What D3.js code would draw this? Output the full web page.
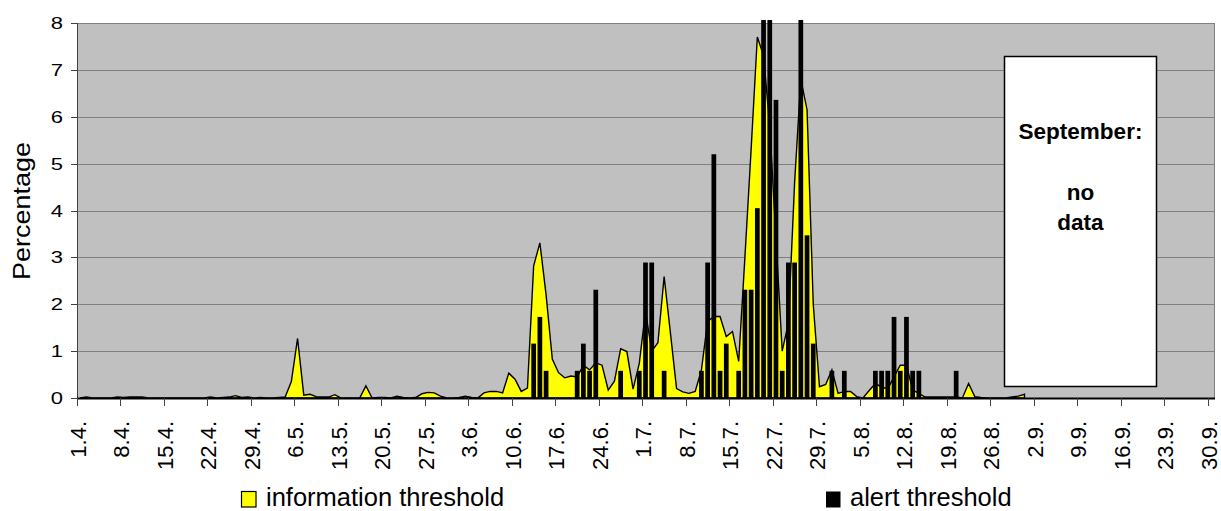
<!DOCTYPE html>
<html>
<head>
<meta charset="utf-8">
<script src="https://cdn.jsdelivr.net/npm/d3@7"></script>
<style>
  html, body { margin: 0; padding: 0; background: #fff; }
  svg { display: block; }
  text { font-family: "Liberation Sans", Arial, sans-serif; fill: #000; }
</style>
</head>
<body>
<svg id="chart" width="1221" height="511"></svg>
<script>
// ---- data ----
// daily categories 1.4. ... 30.9.
const categories = d3.timeDay.range(new Date(2000, 3, 1), new Date(2000, 9, 1)).map(d3.timeFormat("%-d.%-m."));

// information threshold (%), 1.4. - 31.8. (September: no data)
const infoApril = [0,0.02,0,0,0,0,0.02,0.01,0.02,0.02, 0.02,0,0,0,0,0,0,0,0,0, 0,0.02,0,0.01,0.02,0.05,0.01,0.02,0,0.01];
const infoMay = [0,0,0.01,0.02,0.35,1.27,0.06,0.08,0.03,0.02, 0.02,0.07,0,0,0,0,0.26,0,0.01,0.01, 0,0.04,0.01,0,0.01,0.09,0.12,0.11,0.04,0, 0];
const infoJune = [0.01,0.04,0.01,0,0.11,0.14,0.14,0.11,0.53,0.4, 0.14,0.21,2.82,3.31,2.2,0.83,0.54,0.43,0.47,0.45, 0.7,0.6,0.75,0.7,0.17,0.36,1.05,0.99,0.19,0.74];
const infoJuly = [1.85,1.0,1.18,2.59,1.4,0.2,0.13,0.1,0.14,0.6, 1.63,1.74,1.74,1.31,1.42,0.78,3.0,5.3,7.7,7.3, 5.8,3.4,1.0,1.6,4.6,6.8,6.15,2.0,0.24,0.29, 0.6];
const infoAugust = [0.1,0.14,0.14,0.03,0,0.16,0.31,0.23,0.2,0.45, 0.7,0.7,0.17,0.1,0.02,0.02,0.02,0.02,0.02,0.02, 0,0.31,0.03,0.01,0,0,0,0,0.02,0.04, 0.08];

// alert threshold (%), only days with a value
const alertDays = ["13.6.","14.6.","15.6.","20.6.","21.6.","22.6.","23.6.","27.6.","30.6.",
  "1.7.","2.7.","4.7.","10.7.","11.7.","12.7.","13.7.","14.7.","16.7.","17.7.","18.7.","19.7.",
  "20.7.","21.7.","22.7.","23.7.","24.7.","25.7.","26.7.","27.7.","28.7.","31.7.",
  "2.8.","7.8.","8.8.","9.8.","10.8.","11.8.","12.8.","13.8.","14.8.","20.8."];
const alertValues = [1.16,1.73,0.58,0.58,1.16,0.58,2.31,0.58,0.58,
  2.89,2.89,0.58,0.58,2.89,5.2,0.58,1.16,0.58,2.31,2.31,4.05,
  9.25,10.4,6.36,0.58,2.89,2.89,8.67,3.47,1.16,0.58,
  0.58,0.58,0.58,0.58,1.73,0.58,1.73,0.58,0.58,0.58];

const tickLabels = ["1.4.","8.4.","15.4.","22.4.","29.4.","6.5.","13.5.","20.5.","27.5.","3.6.","10.6.","17.6.","24.6.",
  "1.7.","8.7.","15.7.","22.7.","29.7.","5.8.","12.8.","19.8.","26.8.","2.9.","9.9.","16.9.","23.9.","30.9."];
const yTicks = [0,1,2,3,4,5,6,7,8];
const legendLabels = ["information threshold", "alert threshold"];
const noteLines = ["September:", "no", "data"];

// ---- layout ----
const svg = d3.select("#chart");
const L = 77, R = 1214, T = 23, B = 398;

const x = d3.scaleBand().domain(categories).range([L, R]).paddingInner(0).paddingOuter(0);
const bw = x.bandwidth();
const y = d3.scaleLinear().domain([0, 8]).range([B, T]);

const infoValues = [].concat(infoApril, infoMay, infoJune, infoJuly, infoAugust);
const infoData = infoValues.map((v, i) => ({cat: categories[i], v}));
const alertData = alertDays.map((c, i) => ({cat: c, v: alertValues[i]}));

// plot background
svg.append("rect").attr("x", L).attr("y", T).attr("width", R - L).attr("height", B - T)
  .attr("fill", "#C0C0C0");

// gridlines
svg.append("g").selectAll("line").data(yTicks.filter(t => t > 0)).join("line")
  .attr("x1", L).attr("x2", R)
  .attr("y1", d => Math.round(y(d)) + 0.5).attr("y2", d => Math.round(y(d)) + 0.5)
  .attr("stroke", "#808080").attr("stroke-width", 1);

// right border
svg.append("line").attr("x1", R + 0.5).attr("x2", R + 0.5).attr("y1", T).attr("y2", B)
  .attr("stroke", "#808080").attr("stroke-width", 1);

// clip
svg.append("clipPath").attr("id", "clip").append("rect")
  .attr("x", L).attr("y", T - 3).attr("width", R - L).attr("height", B - T + 3);

// area
const area = d3.area()
  .defined(d => d.v != null)
  .x(d => x(d.cat) + bw / 2)
  .y0(y(0))
  .y1(d => y(d.v));
svg.append("path").datum(infoData).attr("d", area)
  .attr("fill", "#FFFF00").attr("stroke", "#000").attr("stroke-width", 1.4)
  .attr("stroke-linejoin", "miter");

// bars
const barW = bw * 0.76;
svg.append("g").attr("clip-path", "url(#clip)")
  .selectAll("rect").data(alertData).join("rect")
  .attr("x", d => x(d.cat) + (bw - barW) / 2)
  .attr("width", barW)
  .attr("y", d => y(d.v))
  .attr("height", d => y(0) - y(d.v))
  .attr("fill", "#000");

// y axis
const yAxisG = svg.append("g");
yAxisG.append("line").attr("x1", L + 0.5).attr("x2", L + 0.5).attr("y1", T).attr("y2", B)
  .attr("stroke", "#404040").attr("stroke-width", 1);
yAxisG.selectAll("line.tick").data(yTicks).join("line").attr("class", "tick")
  .attr("x1", L - 6).attr("x2", L)
  .attr("y1", d => Math.round(y(d)) + 0.5).attr("y2", d => Math.round(y(d)) + 0.5)
  .attr("stroke", "#404040");
yAxisG.selectAll("g.lbl").data(yTicks).join("g").attr("class", "lbl")
  .attr("transform", d => `translate(63,${y(d)}) scale(1,0.76)`)
  .append("text").attr("text-anchor", "end").attr("dy", "0.36em")
  .style("font-size", "22px").text(d => d);

// x axis
const xAxisG = svg.append("g");
xAxisG.append("line").attr("x1", L).attr("x2", R + 1).attr("y1", B + 0.5).attr("y2", B + 0.5)
  .attr("stroke", "#000").attr("stroke-width", 2);
xAxisG.selectAll("line.tick").data(tickLabels).join("line").attr("class", "tick")
  .attr("x1", d => Math.round(x(d)) + 0.5).attr("x2", d => Math.round(x(d)) + 0.5)
  .attr("y1", B).attr("y2", B + 8)
  .attr("stroke", "#404040");
xAxisG.selectAll("text").data(tickLabels).join("text")
  .attr("transform", d => `translate(${x(d) + 1},421) rotate(-90)`)
  .attr("text-anchor", "end").attr("dy", "0.36em")
  .style("font-size", "22px").text(d => d);

// y axis title
svg.append("text")
  .attr("transform", "translate(22,211) rotate(-90) scale(1,0.86)")
  .attr("text-anchor", "middle").attr("dy", "0.36em")
  .style("font-size", "27px").text("Percentage");

// September note box
svg.append("rect").attr("x", 1004.5).attr("y", 56.5).attr("width", 152).attr("height", 330)
  .attr("fill", "#fff").attr("stroke", "#000").attr("stroke-width", 1.5);
const noteY = [139, 200, 230];
svg.append("g").selectAll("text").data(noteLines).join("text")
  .attr("x", 1080.5).attr("y", (d, i) => noteY[i])
  .attr("text-anchor", "middle").style("font-size", "22.5px").style("font-weight", "bold")
  .text(d => d);

// legend
const legend = svg.append("g");
legend.append("rect").attr("x", 241.5).attr("y", 491.5).attr("width", 14.5).attr("height", 15.5)
  .attr("fill", "#FFFF00").attr("stroke", "#000").attr("stroke-width", 1.2);
legend.append("text").attr("x", 266).attr("y", 506).style("font-size", "25.5px").text(legendLabels[0]);
legend.append("rect").attr("x", 826).attr("y", 491.5).attr("width", 14.5).attr("height", 16)
  .attr("fill", "#000");
legend.append("text").attr("x", 850).attr("y", 506).style("font-size", "25.5px").text(legendLabels[1]);
</script>
</body>
</html>
